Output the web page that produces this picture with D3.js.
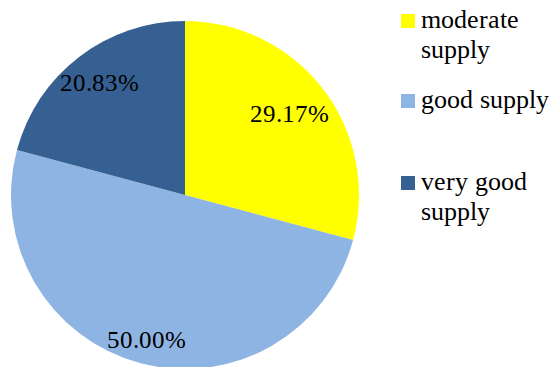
<!DOCTYPE html>
<html>
<head>
<meta charset="utf-8">
<script src="https://cdn.jsdelivr.net/npm/d3@7"></script>
<style>
  @font-face {
    font-family: "ChartSerif";
    src: local("Liberation Serif"), local("LiberationSerif"), local("Times New Roman"), local("Tinos");
  }
  body { margin: 0; }
  svg text.serif { font-family: "ChartSerif", "Liberation Serif", "Times New Roman", serif !important; }
</style>
</head>
<body>
<svg id="chart" width="552" height="367"></svg>
<script>
// Supply categories and their shares (percent)
const categories = ["moderate supply", "good supply", "very good supply"];
const shares = [29.17, 50.00, 20.83];
const colors = ["#FFFF00", "#8EB4E3", "#376092"];
// Legend lines (labels wrapped as in the legend box)
const legendLines = [["moderate", "supply"], ["good supply"], ["very good", "supply"]];

const svg = d3.select("#chart");
const cx = 185, cy = 195, radius = 174;

const data = categories.map((c, i) => ({ name: c, value: shares[i], color: colors[i] }));

const pie = d3.pie().sort(null).value(d => d.value);
const arc = d3.arc().innerRadius(0).outerRadius(radius);
const arcs = pie(data);

const g = svg.append("g").attr("transform", `translate(${cx},${cy})`);

g.selectAll("path.slice")
  .data(arcs)
  .join("path")
  .attr("class", "slice")
  .attr("d", arc)
  .attr("fill", d => d.data.color);

// Percentage labels placed radially at a slice-specific distance
const labelRadius = [0.76, 0.865, 0.81];
arcs.forEach((d, i) => {
  const mid = (d.startAngle + d.endAngle) / 2;
  const r = radius * labelRadius[i];
  g.append("text")
    .attr("class", "serif")
    .attr("x", Math.sin(mid) * r)
    .attr("y", -Math.cos(mid) * r + 7.5)
    .attr("text-anchor", "middle")
    .attr("font-family", "Times New Roman")
    .attr("font-size", 25)
    .text(d.data.value.toFixed(2) + "%");
});

// Legend
const legendX = 401, legendTops = [14, 94, 176], lineGap = 30;
data.forEach((d, i) => {
  const top = legendTops[i];
  svg.append("rect")
    .attr("x", legendX).attr("y", top)
    .attr("width", 14).attr("height", 14)
    .attr("fill", d.color);
  legendLines[i].forEach((line, j) => {
    svg.append("text")
      .attr("class", "serif")
      .attr("x", legendX + 20)
      .attr("y", top + 14 + j * lineGap)
      .attr("font-family", "Times New Roman")
      .attr("font-size", 25.5)
      .text(line);
  });
});
</script>
</body>
</html>
